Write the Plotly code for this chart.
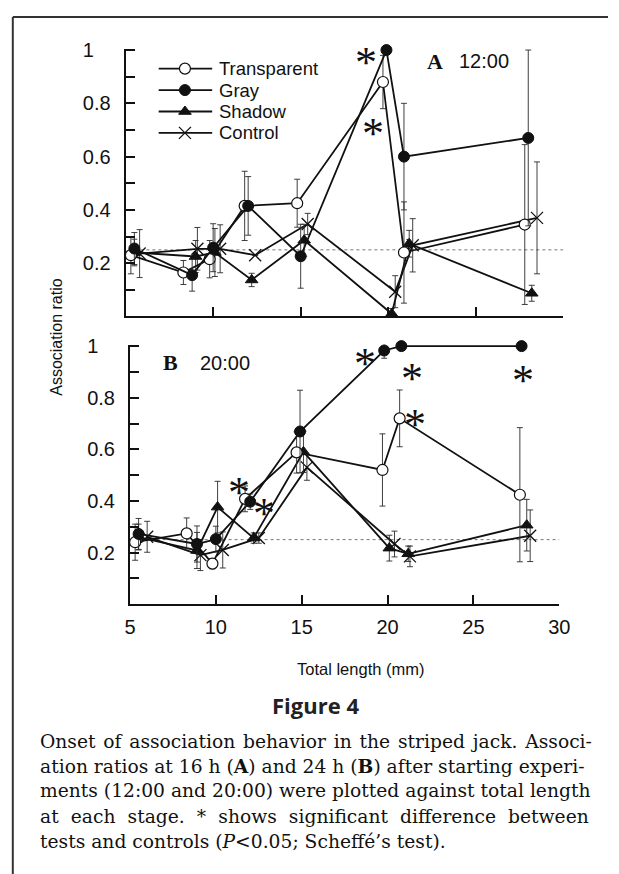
import plotly.graph_objects as go

W, H = 619, 874

# ---------------- data ----------------
series_names = ["Transparent", "Gray", "Shadow", "Control"]
x_ticks = [5, 10, 15, 20, 25, 30]
y_ticks = [0.1, 0.2, 0.3, 0.4, 0.5, 0.6, 0.7, 0.8, 0.9, 1.0]
y_ticktext = ["", "0.2", "", "0.4", "", "0.6", "", "0.8", "", "1\u2008\u2007"]
chance_level = 0.25
chance_x = [5.5, 30]

# Panel A : 12:00
tl_A_transparent = [5.3, 8.3, 9.8, 11.8, 14.8, 19.7, 20.9, 27.8]
ar_A_transparent = [0.23, 0.165, 0.215, 0.415, 0.425, 0.88, 0.24, 0.345]
se_A_transparent = [0.07, 0.045, 0.07, 0.13, 0.09, 0.10, 0.19, 0.30]

tl_A_gray = [5.5, 8.8, 10.0, 12.0, 15.0, 19.9, 20.9, 28.0]
ar_A_gray = [0.255, 0.155, 0.258, 0.415, 0.226, 1.0, 0.60, 0.67]
se_A_gray = [0.06, 0.06, 0.09, 0.11, 0.12, 0.0, 0.20, 0.33]

tl_A_shadow = [5.5, 9.0, 10.1, 12.2, 15.2, 20.2, 21.2, 28.2]
ar_A_shadow = [0.24, 0.225, 0.24, 0.137, 0.286, 0.01, 0.273, 0.087]
se_A_shadow = [0.05, 0.06, 0.09, 0.025, 0.06, 0.02, 0.05, 0.03]

tl_A_control = [5.8, 9.1, 10.4, 12.4, 15.4, 20.4, 21.4, 28.5]
ar_A_control = [0.236, 0.254, 0.254, 0.23, 0.347, 0.093, 0.267, 0.37]
se_A_control = [0.09, 0.08, 0.09, 0.0, 0.04, 0.06, 0.10, 0.21]

sig_A_x = [18.72, 19.14]
sig_A_y = [1.0, 0.733]

# Panel B : 20:00
tl_B_transparent = [5.3, 8.3, 9.8, 11.7, 14.7, 19.7, 20.7, 27.7]
ar_B_transparent = [0.24, 0.274, 0.157, 0.408, 0.588, 0.52, 0.72, 0.424]
se_B_transparent = [0.07, 0.06, 0.02, 0.05, 0.08, 0.14, 0.11, 0.26]

tl_B_gray = [5.5, 8.9, 10.0, 12.0, 14.9, 19.8, 20.8, 27.8]
ar_B_gray = [0.272, 0.233, 0.252, 0.397, 0.669, 0.983, 1.0, 1.0]
se_B_gray = [0.06, 0.07, 0.05, 0.03, 0.16, 0.03, 0.0, 0.0]

tl_B_shadow = [5.5, 8.9, 10.1, 12.2, 15.1, 20.1, 21.2, 28.1]
ar_B_shadow = [0.26, 0.208, 0.376, 0.256, 0.59, 0.217, 0.195, 0.306]
se_B_shadow = [0.05, 0.07, 0.10, 0.02, 0.08, 0.05, 0.03, 0.10]

tl_B_control = [6.0, 9.1, 10.4, 12.5, 15.3, 20.4, 21.3, 28.3]
ar_B_control = [0.261, 0.19, 0.21, 0.256, 0.53, 0.233, 0.185, 0.265]
se_B_control = [0.06, 0.06, 0.07, 0.02, 0.05, 0.05, 0.04, 0.10]

sig_B_x = [11.32, 12.81, 18.66, 21.43, 21.62, 27.89]
sig_B_y = [0.479, 0.397, 0.979, 0.922, 0.743, 0.915]

caption_lines = [
    "Onset of association behavior in the striped jack. Associ-",
    "ation ratios at 16 h (<b>A</b>) and 24 h (<b>B</b>) after starting experi-",
    "ments (12:00 and 20:00) were plotted against total length",
    "at each stage. * shows significant difference between",
    "tests and controls (<i>P</i>&lt;0.05; Scheff\u00e9\u2019s test).",
]

# ---------------- styling ----------------
SANS = "Liberation Sans, Arial, Helvetica, sans-serif"
SERIF = "DejaVu Serif, serif"
BLACK = "#111111"

def fx(p):
    return p / W

def fy(p):
    return 1 - p / H

marker_style = {
    "Transparent": dict(symbol="circle", size=11, color="white", line=dict(color=BLACK, width=1.2)),
    "Gray": dict(symbol="circle", size=11, color=BLACK, line=dict(color=BLACK, width=1)),
    "Shadow": dict(symbol="triangle-up", size=11, color=BLACK, line=dict(color=BLACK, width=1)),
    "Control": dict(symbol="x-thin", size=12, color=BLACK, line=dict(color=BLACK, width=1.3)),
}

panelA = {
    "Transparent": (tl_A_transparent, ar_A_transparent, se_A_transparent),
    "Gray": (tl_A_gray, ar_A_gray, se_A_gray),
    "Shadow": (tl_A_shadow, ar_A_shadow, se_A_shadow),
    "Control": (tl_A_control, ar_A_control, se_A_control),
}
panelB = {
    "Transparent": (tl_B_transparent, ar_B_transparent, se_B_transparent),
    "Gray": (tl_B_gray, ar_B_gray, se_B_gray),
    "Shadow": (tl_B_shadow, ar_B_shadow, se_B_shadow),
    "Control": (tl_B_control, ar_B_control, se_B_control),
}

fig = go.Figure()
draw_order = ["Control", "Shadow", "Transparent", "Gray"]
for panel, xa, ya in [(panelA, "x", "y"), (panelB, "x2", "y2")]:
    for name in draw_order:
        xs, ys, es = panel[name]
        fig.add_trace(go.Scatter(
            x=xs, y=ys, name=name, mode="lines+markers",
            line=dict(color=BLACK, width=1.8),
            marker=marker_style[name],
            error_y=dict(type="data", array=es, visible=True, thickness=0.9, width=3, color="#2a2a2a"),
            xaxis=xa, yaxis=ya, showlegend=False,
            cliponaxis=False,
        ))

# ---- hand-drawn legend (key line + marker + label), in page pixel space ----
leg_rows = [59.3, 81.0, 102.7, 124.3]
leg_line = [157, 212]
leg_mark_x = 184
leg_text_x = 217
for name, yy in zip(series_names, leg_rows):
    fig.add_trace(go.Scatter(
        x=leg_line, y=[yy, yy], mode="lines", line=dict(color=BLACK, width=1.8),
        xaxis="x3", yaxis="y3", showlegend=False, hoverinfo="skip"))
    fig.add_trace(go.Scatter(
        x=[leg_mark_x], y=[yy], mode="markers", marker=marker_style[name],
        xaxis="x3", yaxis="y3", showlegend=False, hoverinfo="skip"))

# geometry of the two panels (pixels, y=1 at top, y=0 at bottom)
A_left, A_right, A_top, A_bottom = 123, 573, 40.5, 310
B_left, B_right, B_top, B_bottom = 127.5, 569, 340, 601
Y_HEADROOM = 0.005  # tiny extra range so lines lying exactly on y=1 are not clipped

def ydomain(top, bottom):
    top_ext = top - Y_HEADROOM * (bottom - top)
    return [fy(bottom), fy(top_ext)]

tickfont = dict(family=SANS, size=20, color=BLACK)
xcommon = dict(range=[5, 30], showline=True, linecolor=BLACK, linewidth=2, ticks="inside",
               ticklen=9, tickwidth=2, tickcolor=BLACK, tickvals=x_ticks, showgrid=False,
               zeroline=False, tickfont=tickfont, fixedrange=True)
ycommon = dict(range=[0, 1 + Y_HEADROOM], showline=True, linecolor=BLACK, linewidth=2, ticks="inside",
               ticklen=9, tickwidth=2, tickcolor=BLACK, tickvals=y_ticks, ticktext=y_ticktext,
               showgrid=False, zeroline=False, tickfont=tickfont, ticklabelstandoff=9, fixedrange=True)

fig.update_layout(
    xaxis=dict(xcommon, domain=[fx(A_left), fx(A_right)], anchor="y", showticklabels=False),
    yaxis=dict(ycommon, domain=ydomain(A_top, A_bottom), anchor="x"),
    xaxis2=dict(xcommon, domain=[fx(B_left), fx(B_right)], anchor="y2", ticktext=[str(v) for v in x_ticks],
                ticklabelstandoff=4),
    yaxis2=dict(ycommon, domain=ydomain(B_top, B_bottom), anchor="x2"),
    xaxis3=dict(domain=[0, 1], range=[0, W], visible=False, fixedrange=True, anchor="y3"),
    yaxis3=dict(domain=[0, 1], range=[H, 0], visible=False, fixedrange=True, anchor="x3"),
    width=W, height=H, autosize=False,
    margin=dict(l=0, r=0, t=0, b=0, pad=0),
    paper_bgcolor="white", plot_bgcolor="rgba(0,0,0,0)",
    font=dict(family=SANS, color=BLACK),
    showlegend=False,
)

shapes = []
for xa, ya in [("x", "y"), ("x2", "y2")]:
    shapes.append(dict(type="line", xref=xa, yref=ya, x0=chance_x[0], x1=chance_x[1],
                       y0=chance_level, y1=chance_level,
                       line=dict(color="#777777", width=1, dash="dot"), layer="below"))
# frame lines of the page
shapes.append(dict(type="line", xref="paper", yref="paper", x0=fx(7), x1=1, y0=fy(7), y1=fy(7),
                   line=dict(color="#333333", width=2)))
shapes.append(dict(type="line", xref="paper", yref="paper", x0=fx(7), x1=fx(7), y0=0, y1=fy(7),
                   line=dict(color="#333333", width=2)))
fig.update_layout(shapes=shapes)

ann = []
for sx, sy, xa, ya in [(sig_A_x, sig_A_y, "x", "y"), (sig_B_x, sig_B_y, "x2", "y2")]:
    for a, b in zip(sx, sy):
        ann.append(dict(x=a, y=b, xref=xa, yref=ya, text="*", showarrow=False,
                        font=dict(family="Liberation Serif, serif", size=44, color=BLACK),
                        xanchor="center", yanchor="middle", yshift=-12))

for name, yy in zip(series_names, leg_rows):
    ann.append(dict(x=fx(leg_text_x), y=fy(yy), xref="paper", yref="paper", text=name, showarrow=False,
                    font=dict(family=SANS, size=18.5, color=BLACK), xanchor="left", yanchor="middle"))

ann += [
    dict(x=fx(441), y=fy(52), xref="paper", yref="paper", text="<b>A</b>", showarrow=False,
         font=dict(family="Liberation Serif, serif", size=22, color=BLACK), xanchor="center", yanchor="middle"),
    dict(x=fx(491), y=fy(52), xref="paper", yref="paper", text="12:00", showarrow=False,
         font=dict(family=SANS, size=20, color=BLACK), xanchor="center", yanchor="middle"),
    dict(x=fx(169), y=fy(357), xref="paper", yref="paper", text="<b>B</b>", showarrow=False,
         font=dict(family="Liberation Serif, serif", size=22, color=BLACK), xanchor="center", yanchor="middle"),
    dict(x=fx(225), y=fy(357), xref="paper", yref="paper", text="20:00", showarrow=False,
         font=dict(family=SANS, size=20, color=BLACK), xanchor="center", yanchor="middle"),
    dict(x=fx(52), y=fy(331), xref="paper", yref="paper", text="Association ratio", showarrow=False,
         textangle=-90, font=dict(family=SANS, size=16, color=BLACK), xanchor="center", yanchor="middle"),
    dict(x=fx(365), y=fy(667), xref="paper", yref="paper", text="Total length (mm)", showarrow=False,
         font=dict(family=SANS, size=16.5, color=BLACK), xanchor="center", yanchor="middle"),
    dict(x=fx(318), y=fy(703), xref="paper", yref="paper", text="<b>Figure 4</b>", showarrow=False,
         font=dict(family="Open Sans, Liberation Sans, sans-serif", size=22, color="#222222"),
         xanchor="center", yanchor="middle"),
]

# extra inter-word spacing per caption line to imitate the justified block
word_pad = ["\u200a", "", "", "\u2004", ""]
line_centers = [740, 765, 790, 816, 841]
for t, pad, yc in zip(caption_lines, word_pad, line_centers):
    txt = t.replace(" ", " " + pad) if pad else t
    ann.append(dict(x=fx(33), y=fy(yc), xref="paper", yref="paper", text=txt, showarrow=False,
                    font=dict(family=SERIF, size=18.7, color=BLACK), xanchor="left", yanchor="middle"))
fig.update_layout(annotations=ann)

fig.write_html(
    "out.html",
    config={"displayModeBar": False, "staticPlot": True},
    post_script="document.body.style.margin='0px';document.body.style.padding='0px';"
                "document.documentElement.style.overflow='hidden';",
)
